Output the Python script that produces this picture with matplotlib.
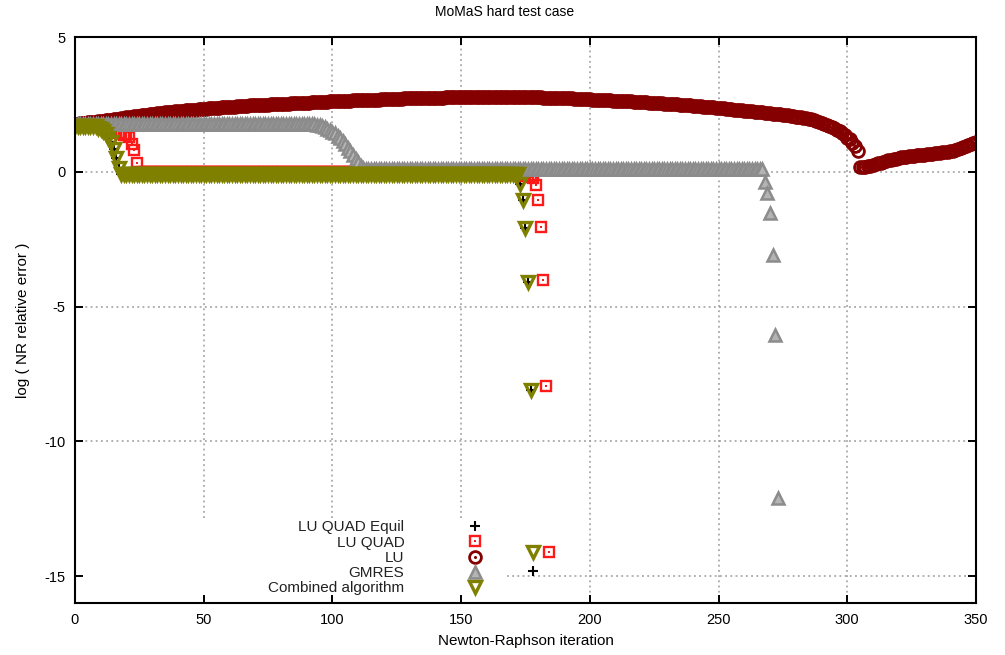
import matplotlib.pyplot as plt
from matplotlib.legend_handler import HandlerTuple

plt.rcParams['font.family'] = ['Liberation Sans', 'DejaVu Sans']
plt.rcParams['axes.unicode_minus'] = False

title = "MoMaS hard test case"
x_label = "Newton-Raphson iteration"
y_label = "log ( NR relative error )"
names = ["LU QUAD Equil", "LU QUAD", "LU", "GMRES", "Combined algorithm"]

# log10 of the NR relative error, one value per iteration
combined = ([1.7] * 8
            + [1.68, 1.64, 1.58, 1.5, 1.4, 1.27, 1.1, 0.85, 0.5, 0.15]
            + [-0.1] * 155
            + [-0.44, -1.04, -2.07, -4.1, -8.1, -14.1])
equil = combined[:-1] + [-14.8]

lu_quad = ([1.75] * 10
           + [1.7, 1.67, 1.63, 1.59, 1.55, 1.51, 1.47, 1.44, 1.41, 1.38,
              1.35, 1.3, 1.04, 0.8, 0.33]
           + [0.0] * 147
           + [-0.05, -0.1, -0.12, -0.15, -0.17, -0.2, -0.22]
           + [-0.48, -1.04, -2.05, -4.0, -7.95, -14.1])

gmres = ([1.78] * 93
         + [1.76, 1.74, 1.72, 1.69, 1.65, 1.6, 1.55, 1.49, 1.42, 1.34,
            1.25, 1.15, 1.03, 0.9, 0.76, 0.62, 0.48, 0.35, 0.23, 0.14]
         + [0.1] * 155
         + [-0.37, -0.78, -1.52, -3.07, -6.07, -12.1])

lu = [
    1.78, 1.79, 1.80, 1.81, 1.82, 1.83, 1.84, 1.85, 1.86, 1.87,
    1.88, 1.89, 1.91, 1.92, 1.93, 1.95, 1.96, 1.97, 1.99, 2.00,
    2.02, 2.03, 2.04, 2.06, 2.07, 2.08, 2.10, 2.11, 2.12, 2.13,
    2.14, 2.16, 2.17, 2.18, 2.19, 2.20, 2.21, 2.22, 2.23, 2.24,
    2.25, 2.26, 2.27, 2.28, 2.28, 2.29, 2.30, 2.31, 2.32, 2.33,
    2.34, 2.34, 2.35, 2.36, 2.37, 2.37, 2.38, 2.39, 2.39, 2.40,
    2.41, 2.41, 2.42, 2.43, 2.43, 2.44, 2.44, 2.45, 2.46, 2.46,
    2.47, 2.47, 2.48, 2.48, 2.49, 2.49, 2.50, 2.50, 2.51, 2.51,
    2.52, 2.52, 2.53, 2.53, 2.54, 2.54, 2.55, 2.55, 2.56, 2.56,
    2.57, 2.57, 2.58, 2.58, 2.59, 2.59, 2.60, 2.60, 2.60, 2.61,
    2.61, 2.62, 2.62, 2.63, 2.63, 2.63, 2.64, 2.64, 2.65, 2.65,
    2.65, 2.66, 2.66, 2.67, 2.67, 2.67, 2.68, 2.68, 2.68, 2.69,
    2.69, 2.69, 2.70, 2.70, 2.70, 2.71, 2.71, 2.71, 2.72, 2.72,
    2.72, 2.72, 2.73, 2.73, 2.73, 2.73, 2.74, 2.74, 2.74, 2.74,
    2.75, 2.75, 2.75, 2.75, 2.76, 2.76, 2.76, 2.76, 2.76, 2.77,
    2.77, 2.77, 2.77, 2.77, 2.77, 2.78, 2.78, 2.78, 2.78, 2.78,
    2.78, 2.78, 2.78, 2.78, 2.78, 2.78, 2.78, 2.78, 2.78, 2.78,
    2.78, 2.78, 2.78, 2.77, 2.77, 2.77, 2.77, 2.77, 2.76, 2.76,
    2.76, 2.76, 2.75, 2.75, 2.75, 2.74, 2.74, 2.74, 2.73, 2.73,
    2.73, 2.72, 2.72, 2.72, 2.71, 2.71, 2.71, 2.70, 2.70, 2.70,
    2.69, 2.68, 2.68, 2.67, 2.67, 2.66, 2.66, 2.65, 2.65, 2.64,
    2.64, 2.63, 2.63, 2.62, 2.62, 2.61, 2.61, 2.60, 2.60, 2.59,
    2.59, 2.58, 2.58, 2.57, 2.56, 2.56, 2.55, 2.54, 2.54, 2.53,
    2.52, 2.52, 2.51, 2.50, 2.50, 2.49, 2.48, 2.47, 2.47, 2.46,
    2.45, 2.44, 2.44, 2.43, 2.42, 2.41, 2.40, 2.40, 2.39, 2.38,
    2.37, 2.36, 2.35, 2.34, 2.33, 2.32, 2.31, 2.30, 2.29, 2.28,
    2.27, 2.26, 2.25, 2.24, 2.23, 2.22, 2.21, 2.20, 2.19, 2.18,
    2.17, 2.16, 2.15, 2.14, 2.13, 2.12, 2.11, 2.10, 2.08, 2.07,
    2.05, 2.04, 2.02, 2.00, 1.98, 1.96, 1.94, 1.91, 1.88, 1.85,
    1.82, 1.79, 1.75, 1.71, 1.67, 1.62, 1.56, 1.50, 1.43, 1.36,
    1.27, 1.20, 1.08, 0.95, 0.78, 0.18, 0.18, 0.19, 0.20, 0.22,
    0.25, 0.28, 0.31, 0.34, 0.37, 0.40, 0.42, 0.45, 0.47, 0.49,
    0.51, 0.53, 0.54, 0.56, 0.57, 0.59, 0.60, 0.61, 0.62, 0.63,
    0.64, 0.65, 0.66, 0.67, 0.68, 0.70, 0.71, 0.72, 0.73, 0.74,
    0.76, 0.78, 0.81, 0.85, 0.89, 0.93, 0.96, 1.00, 1.04, 1.08, 1.12,
]

fig = plt.figure(figsize=(10.05, 6.55), dpi=100)
ax = fig.add_axes([0.0746, 0.0794, 0.8965, 0.8641])
ax.set_xlim(0, 350)
ax.set_ylim(-16, 5)
ax.set_xticks(range(0, 351, 50))
ax.set_yticks(range(-15, 6, 5))

# gnuplot style grid, blanked behind the key box
key_right, key_top = 168, -12.85
grid_kw = dict(color='#9a9a9a', lw=1.1, linestyles=(0, (1.2, 2.2)), zorder=1)
for t in ax.get_xticks()[1:-1]:
    ax.vlines(t, key_top if t < key_right else -16, 5, **grid_kw)
for t in ax.get_yticks()[:-1]:
    ax.hlines(t, key_right if t < key_top else 0, 350, **grid_kw)

def run(v):
    return list(range(len(v)))

h_eq, = ax.plot(run(equil), equil, ls='none', marker='+', ms=7, mew=1.5,
                color='black', zorder=2)
h_q1, = ax.plot(run(lu_quad), lu_quad, ls='none', marker='s', ms=7.5, mew=1.7,
                mfc='none', mec='#ff1a1a', zorder=3)
h_q2, = ax.plot(run(lu_quad), lu_quad, ls='none', marker='s', ms=1.8, mew=0,
                color='#ff1a1a', zorder=3)
h_l1, = ax.plot(run(lu), lu, ls='none', marker='o', ms=8.5, mew=2.0,
                mfc='none', mec='#850000', zorder=4)
h_l2, = ax.plot(run(lu), lu, ls='none', marker='o', ms=2.2, mew=0,
                color='#850000', zorder=4)
h_gm, = ax.plot(run(gmres), gmres, ls='none', marker='^', ms=8.5, mew=1.8,
                mfc='#b4b4b4', mec='#8c8c8c', zorder=5)
h_cb, = ax.plot(run(combined), combined, ls='none', marker='v', ms=8.5, mew=2.4,
                mfc='none', mec='#808000', zorder=6)

leg = ax.legend([h_eq, (h_q1, h_q2), (h_l1, h_l2), h_gm, h_cb], names,
                handler_map={tuple: HandlerTuple(ndivide=1)},
                loc='lower right', bbox_to_anchor=(0.4606, 0.0135),
                frameon=False, markerfirst=False, fontsize=11,
                handlelength=2.0, handletextpad=3.6, labelspacing=0.08,
                borderpad=0.0, borderaxespad=0.0)
for txt in leg.get_texts():
    txt.set_color('#222222')

ax.tick_params(direction='in', length=6, width=1.4, top=True, right=True,
               labelsize=10.5, pad=7)
for sp in ax.spines.values():
    sp.set_linewidth(1.5)
    sp.set_zorder(10)

fig.text(0.502, 0.981, title, fontsize=10, ha='center', va='center')
ax.set_xlabel(x_label, fontsize=11, labelpad=5)
ax.set_ylabel(y_label, fontsize=11, labelpad=10)

fig.savefig('out.png', dpi=100)
